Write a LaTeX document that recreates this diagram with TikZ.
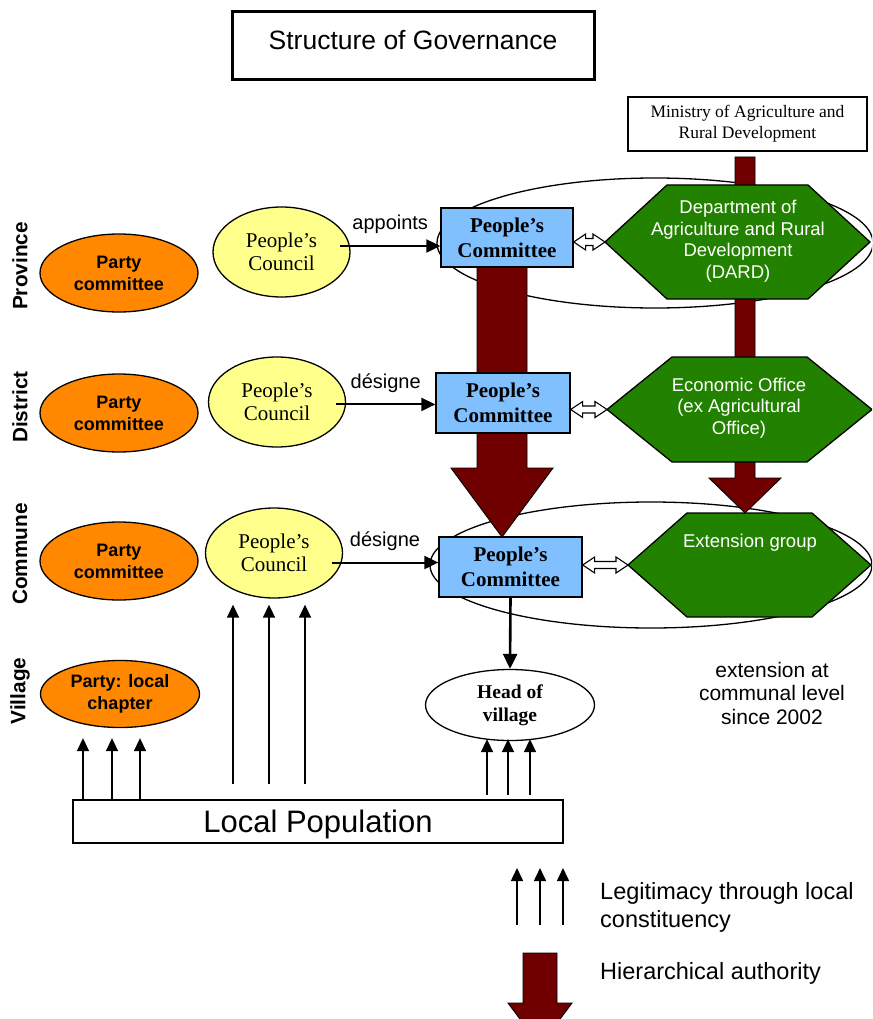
\documentclass[tikz,border=0pt]{standalone}
\usepackage{fontspec}
\setmainfont{Liberation Sans}
\newfontfamily\timesfont{Liberation Serif}
\usetikzlibrary{calc,arrows.meta,shapes.geometric}

\definecolor{partyorange}{HTML}{FF8800}
\definecolor{councilyellow}{HTML}{FFFF8C}
\definecolor{committeeblue}{HTML}{80C0FF}
\definecolor{deptgreen}{HTML}{228200}
\definecolor{authred}{HTML}{700000}

\tikzset{
  outline/.style={draw=black, line width=1.3pt},
  party/.style={ellipse, outline, fill=partyorange, minimum width=158pt, minimum height=78pt,
    inner sep=0pt, align=center, font=\bfseries\fontsize{18}{22}\selectfont},
  council/.style={ellipse, outline, fill=councilyellow, minimum width=137pt, minimum height=90pt,
    inner sep=0pt, align=center, font=\timesfont\fontsize{21}{23.5}\selectfont},
  committee/.style={rectangle, outline, fill=committeeblue, minimum height=60pt,
    inner sep=0pt, align=center, font=\timesfont\bfseries\fontsize{21}{25}\selectfont},
  levellabel/.style={rotate=90, inner sep=0pt, font=\bfseries\fontsize{20.8}{24}\selectfont},
  hexa/.style={outline, fill=deptgreen},
  hextext/.style={text=white, align=center, inner sep=0pt, font=\fontsize{18.5}{21.5}\selectfont},
  authority/.style={draw=black, line width=0.9pt, fill=authred},
  twoway/.style={draw=black, line width=1.1pt, fill=white},
  appoint/.style={line width=2pt, -{Triangle[width=13pt,length=14pt]}},
  verb/.style={inner sep=0pt, font=\fontsize{20}{24}\selectfont},
  legit/.style={line width=1.6pt, -{Triangle[width=12pt,length=13pt]}},
  downlink/.style={line width=2.6pt, -{Triangle[width=14pt,length=15pt]}},
}

% hollow double-headed arrow between two points on one horizontal line
\newcommand\twowayarrow[2]{%
  \draw[twoway] let \p1=(#1), \p2=(#2) in
    (\x1,\y1) -- (\x1+12pt,\y1+8pt) -- (\x1+12pt,\y1+3.5pt) -- (\x2-12pt,\y1+3.5pt)
    -- (\x2-12pt,\y1+8pt) -- (\x2,\y1) -- (\x2-12pt,\y1-8pt) -- (\x2-12pt,\y1-3.5pt)
    -- (\x1+12pt,\y1-3.5pt) -- (\x1+12pt,\y1-8pt) -- cycle;}

\begin{document}
\begin{tikzpicture}[x=1pt,y=-1pt]
\clip (0,0) rectangle (872,1019);

% title and ministry
\node[draw, line width=3pt, minimum width=362pt, minimum height=68pt, inner sep=0pt,
      text height=19pt, text depth=12pt, font=\fontsize{26.5}{30}\selectfont]
      (title) at (413,46) {Structure of Governance};
\node[outline, line width=1.1pt, minimum width=239pt, minimum height=54pt, inner sep=0pt,
      align=center, font=\timesfont\fontsize{17.5}{21}\selectfont]
      (ministry) at (747.5,124) {Ministry of Agriculture and\\Rural Development};

% administrative groupings at province and commune level
\draw[outline] (655,243) ellipse [x radius=218, y radius=65];
\draw[outline] (651,565) ellipse [x radius=221, y radius=63];

% hierarchical authority arrows
\draw[authority] (477,262) -- (527,262) -- (527,468) -- (553,468) -- (502,537)
  -- (451,468) -- (477,468) -- cycle;
\draw[authority] (735,157) -- (755,157) -- (755,478) -- (781,478) -- (745,513)
  -- (709,478) -- (735,478) -- cycle;

% level labels
\node[levellabel] (lprov) at (20,266) {Province};
\node[levellabel] (ldist) at (20,407) {District};
\node[levellabel] (lcomm) at (20,554) {Commune};
\node[levellabel] (lvill) at (20,691) {Village};

% party
\node[party] (p1) at (119,273) {Party\\committee};
\node[party] (p2) at (119,413) {Party\\committee};
\node[party] (p3) at (119,561) {Party\\committee};
\node[party, minimum width=159pt, minimum height=67pt] (vp) at (120,694) {Party: local\\chapter};

% councils
\node[council] (c1) at (281.5,252) {People’s\\Council};
\node[council] (c2) at (277,402) {People’s\\Council};
\node[council] (c3) at (274,553) {People’s\\Council};

% committees
\node[committee, minimum width=132pt, minimum height=59pt] (pc1) at (507,237.5) {People’s\\Committee};
\node[committee, minimum width=134pt] (pc2) at (503,403) {People’s\\Committee};
\node[committee, minimum width=143pt] (pc3) at (510.5,567) {People’s\\Committee};

% technical services
\coordinate (dard-w) at (605,242);
\draw[hexa] (dard-w) -- (667,185) -- (808,185) -- (870,242) -- (808,299) -- (667,299) -- cycle;
\node[hextext] (dard) at (738,241) {Department of\\Agriculture and Rural\\Development\\(DARD)};

\coordinate (econ-w) at (607,409.5);
\draw[hexa] (econ-w) -- (672,357) -- (807,357) -- (872,409.5) -- (807,462) -- (672,462) -- cycle;
\node[hextext] (econ) at (739,408) {Economic Office\\(ex Agricultural\\Office)};

\coordinate (ext-w) at (628,565);
\draw[hexa] (ext-w) -- (687,513) -- (812,513) -- (871,565) -- (812,617) -- (687,617) -- cycle;
\node[hextext] (ext) at (750,543) {Extension group};

\twowayarrow{pc1.east |- dard-w}{dard-w}
\twowayarrow{pc2.east |- econ-w}{econ-w}
\twowayarrow{pc3.east |- ext-w}{ext-w}

% council to committee
\draw[appoint] ($(c1.5)+(-10,0)$) -- node[verb, above=11pt] {appoints} (c1.5 -| pc1.west);
\draw[appoint] ($(c2.-2)+(-10,0)$) -- node[verb, above=11pt] {désigne} (c2.-2 -| pc2.west);
\draw[appoint] ($(c3.-8)+(-10,0)$) -- node[verb, above=11pt] {désigne} (c3.-8 -| pc3.west);

% village level
\node[ellipse, outline, fill=white, minimum width=169pt, minimum height=71pt, inner sep=0pt,
      align=center, font=\timesfont\bfseries\fontsize{19.5}{23}\selectfont]
      (hov) at (510,705) {Head of\\village};
\draw[downlink] (pc3.south) -- (hov.north);

\node[outline, line width=1.1pt, minimum width=490pt, minimum height=43pt, inner sep=0pt,
      text height=22pt, text depth=1pt, font=\fontsize{31}{36}\selectfont] (lp) at (318,821.5) {Local Population};

% legitimacy from the local population
\foreach \dx in {-37,-8,20}
  \draw[legit] ($(vp.south)+(\dx,71)$) -- ++(0,-61);
\foreach \dx in {-41,-5,31}
  \draw[legit] ($(c3.south)+(\dx,185)$) -- ++(0,-179);
\foreach \dx in {-23,-2,20}
  \draw[legit] ($(hov.south)+(\dx,54)$) -- ++(0,-56);

\node[align=center, inner sep=0pt, font=\fontsize{21}{23.5}\selectfont]
  (note) at (772,693) {extension at\\communal level\\since 2002};

% legend
\coordinate (legbase) at (540,925);
\foreach \dx in {-23,0,23}
  \draw[legit] ($(legbase)+(\dx,0)$) -- ++(0,-57);
\node[anchor=west, align=left, inner sep=0pt, font=\fontsize{23.5}{28}\selectfont]
  (legit) at (600,907) {Legitimacy through local\\constituency};
\draw[authority] (523,953) -- (557,953) -- (557,1003) -- (572,1003) -- (540,1046)
  -- (508,1003) -- (523,1003) -- cycle;
\node[anchor=west, inner sep=0pt, font=\fontsize{23.5}{28}\selectfont]
  (auth) at (600,973) {Hierarchical authority};
\end{tikzpicture}
\end{document}
